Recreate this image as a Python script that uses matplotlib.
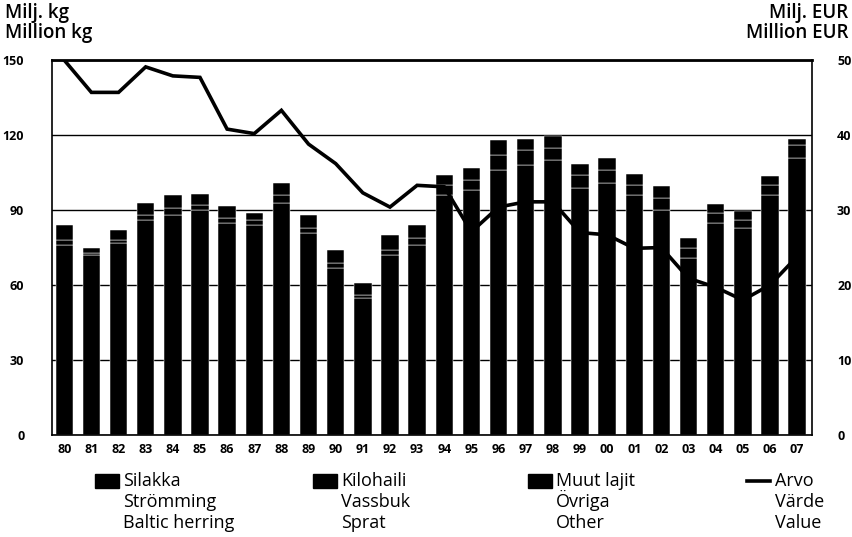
import numpy as np
import matplotlib
matplotlib.use("Agg")
import matplotlib.pyplot as plt
from matplotlib.patches import Rectangle
from matplotlib.lines import Line2D

plt.rcParams["font.family"] = ["Open Sans", "DejaVu Sans"]

YEARS = ["80", "81", "82", "83", "84", "85", "86", "87", "88", "89",
         "90", "91", "92", "93", "94", "95", "96", "97", "98", "99",
         "00", "01", "02", "03", "04", "05", "06", "07"]

# million kg
HERRING = [76, 72, 77, 86, 88, 90, 85, 84, 93, 81,
           67, 55, 72, 76, 96, 98, 106, 108, 110, 99,
           101, 96, 90, 71, 85, 83, 96, 111]
SPRAT = [2, 1, 1, 2, 3, 2, 2, 2, 3, 2,
         2, 1, 2, 3, 4, 4, 6, 6, 5, 5,
         5, 4, 5, 4, 4, 3, 4, 5]
OTHER = [6, 2, 4, 5, 5, 4.5, 4.5, 3, 5, 5,
         5, 5, 6, 5, 4, 5, 6, 4.5, 4.5, 4.5,
         5, 4.5, 4.5, 4, 3.5, 3.5, 3.5, 2.5]

# million EUR
VALUE = [50, 45.7, 45.7, 49.1, 47.9, 47.7, 40.8, 40.2, 43.3, 38.8,
         36.2, 32.3, 30.4, 33.3, 33.1, 27.1, 30.4, 31.1, 31.1, 27.0,
         26.7, 24.9, 25.0, 20.9, 19.7, 18.0, 20.0, 23.8]

LEGEND_TEXT = [["Silakka", "Strömming", "Baltic herring"],
               ["Kilohaili", "Vassbuk", "Sprat"],
               ["Muut lajit", "Övriga", "Other"],
               ["Arvo", "Värde", "Value"]]

fig = plt.figure(figsize=(8.53, 5.37), dpi=100)
ax = fig.add_axes([0.061, 0.190, 0.891, 0.698])

x = np.arange(len(YEARS))
herring = np.array(HERRING)
sprat = np.array(SPRAT)
other = np.array(OTHER)

bar_kw = dict(width=0.64, color="black", edgecolor="white", linewidth=0.35, zorder=2)
ax.bar(x, herring, **bar_kw)
ax.bar(x, sprat, bottom=herring, **bar_kw)
ax.bar(x, other, bottom=herring + sprat, **bar_kw)

ax.set_xlim(-0.45, len(YEARS) - 0.45)
ax.set_ylim(0, 150)
ax.set_yticks([0, 30, 60, 90, 120, 150])
ax.set_xticks(x)
ax.set_xticklabels(YEARS)
ax.set_axisbelow(True)
ax.yaxis.grid(True, color="black", linewidth=1.0)
for s in ["left", "right", "bottom"]:
    ax.spines[s].set_linewidth(1.2)
ax.spines["top"].set_linewidth(2.0)
ax.tick_params(axis="y", length=0, pad=20, labelsize=9)
ax.tick_params(axis="x", length=0, pad=6, labelsize=9)
for lab in ax.get_xticklabels() + ax.get_yticklabels():
    lab.set_fontweight("bold")

ax2 = ax.twinx()
ax2.plot(x, VALUE, color="black", linewidth=2.6, solid_joinstyle="miter", zorder=3)
ax2.set_ylim(0, 50)
ax2.set_yticks([0, 10, 20, 30, 40, 50])
ax2.tick_params(axis="y", length=0, pad=18, labelsize=9)
for lab in ax2.get_yticklabels():
    lab.set_fontweight("bold")
for s in ax2.spines.values():
    s.set_visible(False)

# axis titles
fig.text(0.006, 0.994, "Milj. kg\nMillion kg", ha="left", va="top",
         fontsize=13.5, fontweight="semibold", linespacing=1.0)
fig.text(0.995, 0.994, "Milj. EUR\nMillion EUR", ha="right", va="top",
         fontsize=13.5, fontweight="semibold", linespacing=1.0, multialignment="right")

# legend drawn by hand
cols = [95, 313, 528, 747]
baselines = [486, 507, 528]
for i, (cx, lines) in enumerate(zip(cols, LEGEND_TEXT)):
    if i < 3:
        fig.patches.append(Rectangle((cx / 853, 1 - 488 / 537), 24 / 853, 14 / 537,
                                     transform=fig.transFigure, color="black"))
    else:
        fig.lines.append(Line2D([cx / 853, (cx + 23) / 853], [1 - 481 / 537] * 2,
                                transform=fig.transFigure, color="black", linewidth=2.6))
    for line, by in zip(lines, baselines):
        fig.text((cx + 28) / 853, 1 - by / 537, line, ha="left", va="baseline",
                 fontsize=13)

fig.savefig("out.png", dpi=100)
